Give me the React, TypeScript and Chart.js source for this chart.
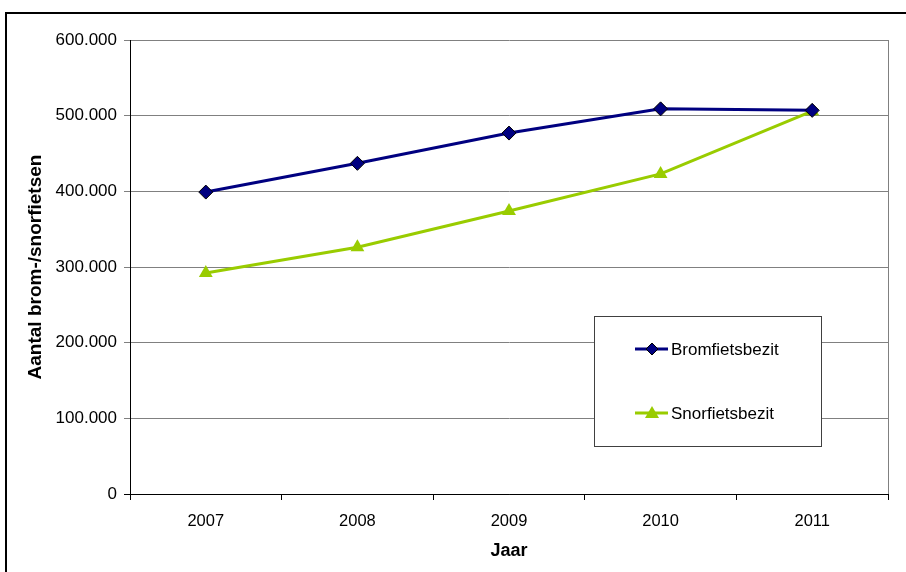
import React, { useEffect, useRef } from "react";
import { Chart, registerables } from "chart.js";

Chart.register(...registerables);

const years = ["2007", "2008", "2009", "2010", "2011"];
const bromfiets = [399000, 437000, 477000, 509000, 507000];
const snorfiets = [292000, 326000, 374000, 423000, 506000];
const seriesNames = ["Bromfietsbezit", "Snorfietsbezit"];
const seriesColors = ["#000080", "#99CC00"];
const yTitle = "Aantal brom-/snorfietsen";
const xTitle = "Jaar";

const FONT = "'Liberation Sans', Arial, sans-serif";

const fmt = (v: number) =>
  v === 0 ? "0" : Math.round(v).toString().replace(/\B(?=(\d{3})+(?!\d))/g, ".");

const framePlugin = {
  id: "frame",
  beforeDraw(chart: any) {
    const ctx = chart.ctx;
    ctx.save();
    ctx.fillStyle = "#fff";
    ctx.fillRect(0, 0, chart.width, chart.height);
    ctx.strokeStyle = "#000";
    ctx.lineWidth = 2;
    ctx.beginPath();
    ctx.moveTo(6, chart.height + 5);
    ctx.lineTo(6, 13);
    ctx.lineTo(chart.width + 5, 13);
    ctx.stroke();
    ctx.restore();
  },
  beforeDatasetsDraw(chart: any) {
    const { ctx, chartArea } = chart;
    ctx.save();
    ctx.strokeStyle = "#808080";
    ctx.lineWidth = 1;
    ctx.beginPath();
    ctx.moveTo(Math.round(chartArea.right) + 0.5, chartArea.top);
    ctx.lineTo(Math.round(chartArea.right) + 0.5, chartArea.bottom);
    ctx.stroke();
    ctx.restore();
  },
  afterDraw(chart: any) {
    const ctx = chart.ctx;
    const bx = 594.5, by = 316.5, bw = 227, bh = 130;
    ctx.save();
    ctx.fillStyle = "#fff";
    ctx.fillRect(bx, by, bw, bh);
    ctx.strokeStyle = "#404040";
    ctx.lineWidth = 1;
    ctx.strokeRect(bx, by, bw, bh);
    const rows = [349, 413];
    chart.data.datasets.forEach((ds: any, i: number) => {
      const y = rows[i];
      ctx.strokeStyle = ds.borderColor;
      ctx.lineWidth = 3;
      ctx.beginPath();
      ctx.moveTo(635, y);
      ctx.lineTo(668, y);
      ctx.stroke();
      ctx.fillStyle = ds.pointBackgroundColor;
      ctx.strokeStyle = ds.pointBorderColor;
      ctx.lineWidth = 1;
      const cx = 652;
      if (ds.pointStyle === "rectRot") {
        const r = 6;
        ctx.beginPath();
        ctx.moveTo(cx, y - r);
        ctx.lineTo(cx + r, y);
        ctx.lineTo(cx, y + r);
        ctx.lineTo(cx - r, y);
        ctx.closePath();
        ctx.fill();
        ctx.stroke();
      } else {
        const r = 7;
        ctx.beginPath();
        ctx.moveTo(cx, y - r);
        ctx.lineTo(cx + r, y + r * 0.7);
        ctx.lineTo(cx - r, y + r * 0.7);
        ctx.closePath();
        ctx.fill();
      }
      ctx.fillStyle = "#000";
      ctx.font = `17px ${FONT}`;
      ctx.textBaseline = "middle";
      ctx.textAlign = "left";
      ctx.fillText(ds.label, 671, y + 1);
    });
    ctx.restore();
  },
};

export default function App() {
  const ref = useRef<HTMLCanvasElement>(null);
  useEffect(() => {
    document.body.style.margin = "0";
    const chart = new Chart(ref.current!, {
      type: "line",
      data: {
        labels: years,
        datasets: [
          {
            label: seriesNames[0],
            data: bromfiets,
            borderColor: seriesColors[0],
            backgroundColor: seriesColors[0],
            pointBackgroundColor: seriesColors[0],
            pointBorderColor: "#000",
            pointBorderWidth: 1,
            pointStyle: "rectRot",
            pointRadius: 7,
            borderWidth: 3,
            tension: 0,
          },
          {
            label: seriesNames[1],
            data: snorfiets,
            borderColor: seriesColors[1],
            backgroundColor: seriesColors[1],
            pointBackgroundColor: seriesColors[1],
            pointBorderColor: seriesColors[1],
            pointBorderWidth: 0,
            pointStyle: "triangle",
            pointRadius: 8,
            borderWidth: 3,
            tension: 0,
          },
        ],
      },
      options: {
        animation: false,
        responsive: false,
        devicePixelRatio: 1,
        layout: { padding: { left: 0, right: 18, top: 40, bottom: 0 } },
        plugins: {
          legend: { display: false },
          tooltip: { enabled: false },
        },
        scales: {
          x: {
            offset: true,
            grid: {
              offset: true,
              drawOnChartArea: false,
              drawTicks: true,
              tickLength: 6,
              color: "#000",
            },
            border: { color: "#000", width: 1 },
            ticks: {
              color: "#000",
              font: { family: FONT, size: 16.5 },
              padding: 12,
              maxRotation: 0,
            },
            title: {
              display: true,
              text: xTitle,
              color: "#000",
              font: { family: FONT, size: 18, weight: "bold" },
              padding: { top: 0, bottom: 10 },
            },
            afterFit(scale: any) {
              scale.height = 78;
            },
          },
          y: {
            min: 0,
            max: 600000,
            grid: {
              color: (c: any) => (c.tick && c.tick.value === 0 ? "#000" : "#808080"),
              tickLength: 6,
              drawTicks: true,
            },
            border: { color: "#000", width: 1 },
            ticks: {
              stepSize: 100000,
              color: "#000",
              font: { family: FONT, size: 17 },
              padding: 7,
              callback: (v: any) => fmt(Number(v)),
            },
            title: {
              display: true,
              text: yTitle,
              color: "#000",
              font: { family: FONT, size: 19, weight: "bold" },
              padding: { top: 24, bottom: 0 },
            },
            afterFit(scale: any) {
              scale.width = 130;
            },
          },
        },
      },
      plugins: [framePlugin],
    });
    return () => chart.destroy();
  }, []);
  return (
    <div style={{ position: "absolute", left: 0, top: 0, width: 906, height: 572 }}>
      <canvas ref={ref} width={906} height={572} style={{ width: 906, height: 572, display: "block" }} />
    </div>
  );
}
